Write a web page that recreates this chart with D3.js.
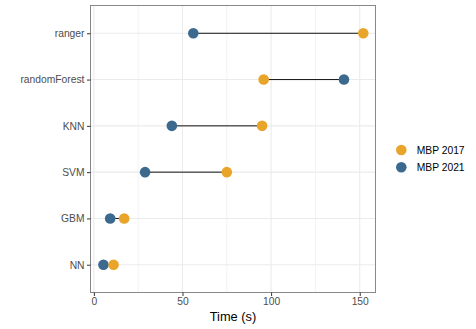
<!DOCTYPE html>
<html>
<head>
<meta charset="UTF-8">
<script src="https://d3js.org/d3.v7.min.js"></script>
<style>
  body { margin: 0; background: #fff; }
  svg { font-family: "Liberation Sans", Arial, sans-serif; }
</style>
</head>
<body>
<div id="chart"></div>
<script>
// data
const models = ["NN", "GBM", "SVM", "KNN", "randomForest", "ranger"];
const mbp2017 = [11.1, 17.1, 75, 94.9, 95.8, 152];
const mbp2021 = [5.4, 9.2, 28.9, 44, 141.1, 56.1];
const xTicks = [0, 50, 100, 150];
const minorTicks = [25, 75, 125];
const seriesNames = ["MBP 2017", "MBP 2021"];
const seriesColors = ["#E9A42A", "#3B6A8E"];

const width = 476, height = 329;
const panel = { left: 90.5, right: 375.5, top: 5.5, bottom: 292.5 };

const svg = d3.select("#chart").append("svg")
    .attr("width", width)
    .attr("height", height);

const x = d3.scaleLinear()
    .domain([-1.9, 158.9])
    .range([panel.left, panel.right]);

// discrete axis with 0.6 expansion on each side
const y = d3.scalePoint()
    .domain(models)
    .range([panel.bottom, panel.top])
    .padding(0.6);

const g = svg.append("g");

// grid
g.selectAll(".minor").data(minorTicks).enter().append("line")
    .attr("x1", d => x(d)).attr("x2", d => x(d))
    .attr("y1", panel.top).attr("y2", panel.bottom)
    .attr("stroke", "#EBEBEB").attr("stroke-width", 0.6);
g.selectAll(".majorx").data(xTicks).enter().append("line")
    .attr("x1", d => x(d)).attr("x2", d => x(d))
    .attr("y1", panel.top).attr("y2", panel.bottom)
    .attr("stroke", "#EBEBEB").attr("stroke-width", 1.1);
g.selectAll(".majory").data(models).enter().append("line")
    .attr("x1", panel.left).attr("x2", panel.right)
    .attr("y1", d => y(d)).attr("y2", d => y(d))
    .attr("stroke", "#EBEBEB").attr("stroke-width", 1.1);

// dumbbell segments
const rows = models.map((m, i) => ({ model: m, a: mbp2017[i], b: mbp2021[i] }));
g.selectAll(".seg").data(rows).enter().append("line")
    .attr("x1", d => x(d.a)).attr("x2", d => x(d.b))
    .attr("y1", d => y(d.model)).attr("y2", d => y(d.model))
    .attr("stroke", "#111").attr("stroke-width", 1);

// points
[mbp2021, mbp2017].forEach((vals, k) => {
    const color = k === 0 ? seriesColors[1] : seriesColors[0];
    g.selectAll(".pt" + k).data(vals).enter().append("circle")
        .attr("cx", d => x(d))
        .attr("cy", (d, i) => y(models[i]))
        .attr("r", 5.3)
        .attr("fill", color);
});

// panel border
svg.append("rect")
    .attr("x", panel.left).attr("y", panel.top)
    .attr("width", panel.right - panel.left)
    .attr("height", panel.bottom - panel.top)
    .attr("fill", "none").attr("stroke", "#888").attr("stroke-width", 1);

// axes
const xAxis = svg.append("g")
    .attr("transform", `translate(0,${panel.bottom})`)
    .call(d3.axisBottom(x).tickValues(xTicks).tickSize(3.5).tickPadding(2));
const yAxis = svg.append("g")
    .attr("transform", `translate(${panel.left},0)`)
    .call(d3.axisLeft(y).tickSize(3.5).tickPadding(2.5));
[xAxis, yAxis].forEach(a => {
    a.select(".domain").remove();
    a.selectAll(".tick line").attr("stroke", "#333");
    a.selectAll(".tick text")
        .attr("fill", "#4D4D4D")
        .style("font-size", "10.3px")
        .style("font-family", "'Liberation Sans', Arial, sans-serif");
});

svg.append("text")
    .attr("x", (panel.left + panel.right) / 2)
    .attr("y", 320.5)
    .attr("text-anchor", "middle")
    .style("font-size", "12.8px")
    .attr("fill", "#000")
    .text("Time (s)");

// legend
const legend = svg.append("g");
seriesNames.forEach((name, i) => {
    const ly = 150 + i * 17.3;
    legend.append("circle")
        .attr("cx", 401.3).attr("cy", ly).attr("r", 5.3)
        .attr("fill", seriesColors[i]);
    legend.append("text")
        .attr("x", 416.7).attr("y", ly + 3.7)
        .style("font-size", "10.3px")
        .attr("fill", "#000")
        .text(name);
});
</script>
</body>
</html>
